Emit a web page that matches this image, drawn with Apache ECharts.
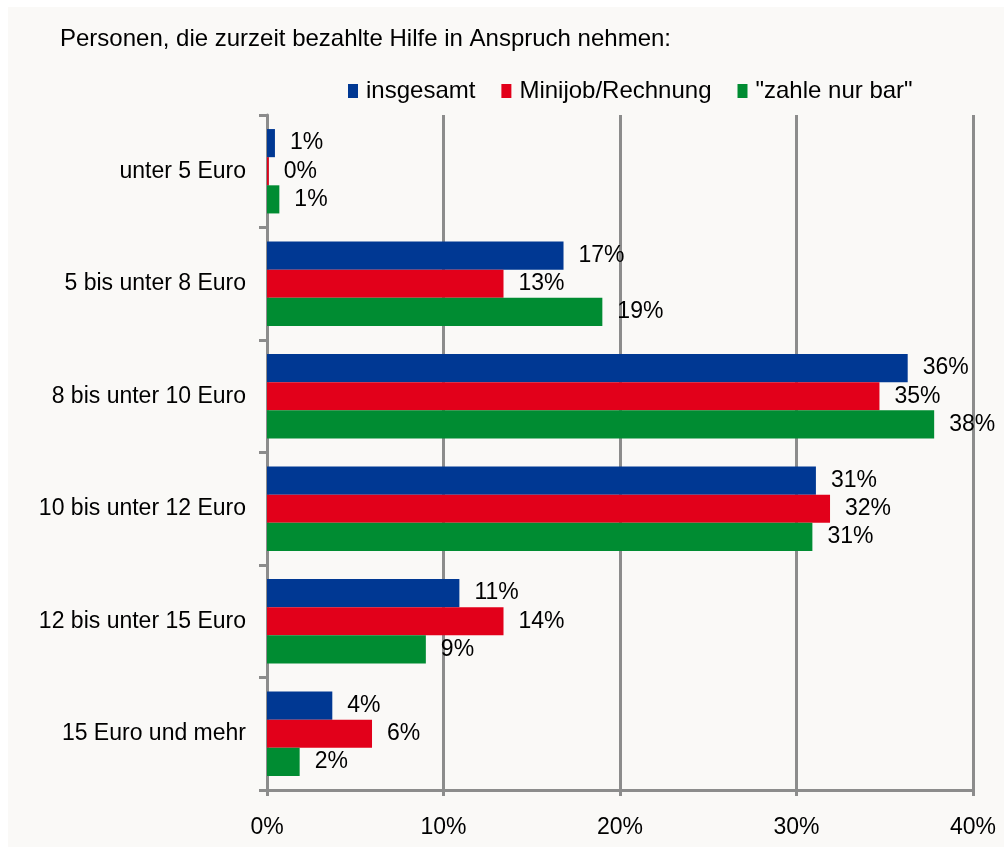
<!DOCTYPE html>
<html><head><meta charset="utf-8">
<script src="https://cdn.jsdelivr.net/npm/echarts@6/dist/echarts.min.js"></script>
<style>html,body{margin:0;padding:0;background:#ffffff;}#c{width:1004px;height:847px;}</style>
</head><body><div id="c"></div>
<script>
const categories = ["unter 5 Euro","5 bis unter 8 Euro","8 bis unter 10 Euro","10 bis unter 12 Euro","12 bis unter 15 Euro","15 Euro und mehr"];
const seriesNames = ["insgesamt","Minijob/Rechnung","\"zahle nur bar\""];
const insgesamt = [0.45, 16.8, 36.3, 31.1, 10.9, 3.7];
const minijob   = [0.1, 13.4, 34.7, 31.9, 13.4, 5.95];
const bar       = [0.7, 19.0, 37.8, 30.9, 9.0, 1.85];
const labelsInsgesamt = ["1%","17%","36%","31%","11%","4%"];
const labelsMinijob   = ["0%","13%","35%","32%","14%","6%"];
const labelsBar       = ["1%","19%","38%","31%","9%","2%"];
const xTicks = [0,10,20,30,40];
const titleText = "Personen, die zurzeit bezahlte Hilfe in Anspruch nehmen:";

const colors = ["#003893","#e2001a","#008c32"];
const font = "Liberation Sans, Arial, sans-serif";
const chart = echarts.init(document.getElementById('c'), null, {renderer:'canvas'});
function mk(name, data, labels, color){
  return {
    name, type:'bar', data, barGap:'0%', barCategoryGap:'25%',
    itemStyle:{color},
    label:{show:true, position:'right', distance:15, color:'#000', fontFamily:font, fontSize:23,
      formatter:p=>labels[p.dataIndex]}
  };
}
chart.setOption({
  animation:false,
  graphic:[{type:'rect', shape:{x:8,y:7,width:996,height:840}, style:{fill:'#faf9f7'}, z:-10}],
  title:{text:titleText, left:55, top:22, textStyle:{fontFamily:font, fontSize:24, fontWeight:'normal', color:'#000'}},
  legend:{left:343, top:74, itemWidth:10, itemHeight:14, itemGap:26, icon:'rect',
    textStyle:{fontFamily:font, fontSize:24, color:'#000', padding:[0,0,0,3]}, data:seriesNames},
  grid:{left:267, right:31, top:115, bottom:57, containLabel:false},
  xAxis:{type:'value', min:0, max:40, interval:10,
    axisLine:{show:true, lineStyle:{color:'#8c8c8c', width:3}},
    axisTick:{show:true, length:6, lineStyle:{color:'#8c8c8c', width:3}},
    splitLine:{show:true, lineStyle:{color:'#8c8c8c', width:3}},
    axisLabel:{margin:26, color:'#000', fontFamily:font, fontSize:23, formatter:v=>v+'%'}},
  yAxis:{type:'category', data:categories, inverse:true,
    axisLine:{show:true, lineStyle:{color:'#8c8c8c', width:3}},
    axisTick:{show:true, length:8, lineStyle:{color:'#8c8c8c', width:3}},
    axisLabel:{margin:21, color:'#000', fontFamily:font, fontSize:23}},
  series:[mk(seriesNames[0], insgesamt, labelsInsgesamt, colors[0]),
          mk(seriesNames[1], minijob, labelsMinijob, colors[1]),
          mk(seriesNames[2], bar, labelsBar, colors[2])]
});
</script></body></html>
